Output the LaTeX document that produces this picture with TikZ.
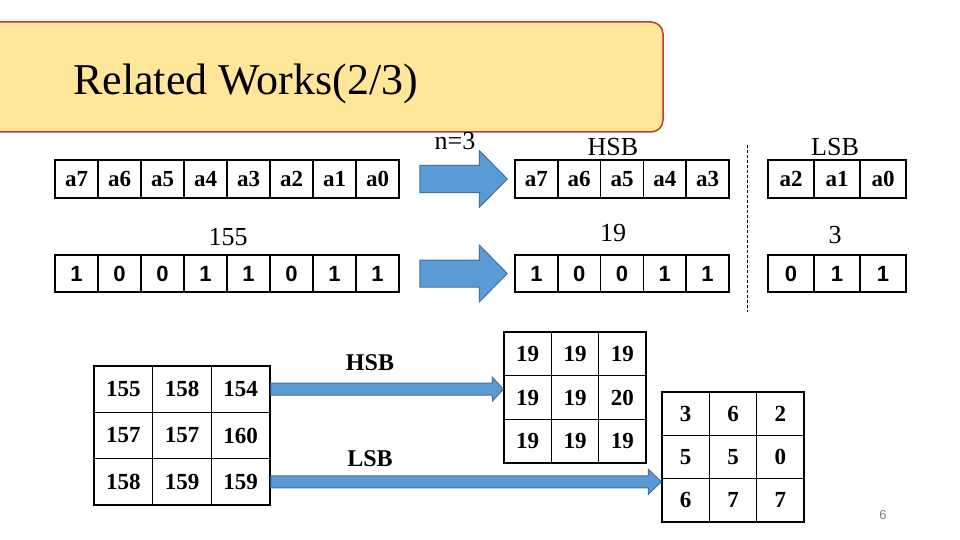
\documentclass[tikz,border=0pt]{standalone}
\usepackage{fontspec}
\setmainfont{Liberation Serif}
\newfontfamily\bitfont{Liberation Sans}
\definecolor{titlefill}{HTML}{FFE699}
\definecolor{titleedge}{HTML}{C0392B}
\definecolor{arrowblue}{HTML}{5B9BD5}
\definecolor{arrowedge}{HTML}{41719C}
\usetikzlibrary{calc}

\begin{document}
\begin{tikzpicture}[x=1pt, y=-1pt,
  cell/.style 2 args={draw, line width=1.5pt, inner sep=0pt, minimum width=#1, minimum height=#2,
    font=\fontsize{23}{23}\selectfont\bfseries},
  bitcell/.style 2 args={cell={#1}{#2}, font=\bitfont\fontsize{22}{22}\selectfont\bfseries},
  numtag/.style={inner sep=0pt, font=\fontsize{26}{26}\selectfont},
  boldtag/.style={inner sep=0pt, font=\fontsize{24}{24}\selectfont\bfseries},
  fatarrow/.style n args={3}{fill=arrowblue, draw=arrowedge, line width=1pt,
    to path={let \p1=(\tikztostart), \p2=(\tikztotarget) in
      (\x1,\y1+#1) -- (\x2-#3,\y1+#1) -- (\x2-#3,\y1+#2) -- (\x2,\y1)
      -- (\x2-#3,\y1-#2) -- (\x2-#3,\y1-#1) -- (\x1,\y1-#1) -- cycle}}]
\useasboundingbox (0,0) rectangle (960,540);
\clip (0,0) rectangle (960,540);

% Title
\draw[titleedge, fill=titlefill, line width=1.5pt, rounded corners=12pt] (-20,22) rectangle (663,132);
\node[anchor=base west, inner sep=0pt, font=\fontsize{44}{44}\selectfont] (title) at (73,95) {Related Works(2/3)};

% Bit positions and the value 155
\foreach \t [count=\i from 0] in {a7,a6,a5,a4,a3,a2,a1,a0}
  \node[cell={43pt}{38pt}] (ab\i) at (76.5+43*\i,179) {\t};
\node[numtag] (v155) at (228,237) {155};
\foreach \t [count=\i from 0] in {1,0,0,1,1,0,1,1}
  \node[bitcell={43pt}{37pt}] (vb\i) at (76.5+43*\i,273.5) {\t};

% Split into HSB / LSB
\node[numtag] (nval) at (455,141) {n=3};
\node[numtag] (hsbtop) at (613,147) {HSB};
\node[numtag] (lsbtop) at (835,147) {LSB};
\foreach \t [count=\i from 0] in {a7,a6,a5,a4,a3}
  \node[cell={42.8pt}{38pt}] (hb\i) at (536.4+42.8*\i,179) {\t};
\foreach \t [count=\i from 0] in {a2,a1,a0}
  \node[cell={46pt}{38pt}] (lb\i) at (791+46*\i,179) {\t};
\node[numtag] (v19) at (613,233) {19};
\node[numtag] (v3) at (835,235) {3};
\foreach \t [count=\i from 0] in {1,0,0,1,1}
  \node[bitcell={42.8pt}{37pt}] (hv\i) at (536.4+42.8*\i,273.5) {\t};
\foreach \t [count=\i from 0] in {0,1,1}
  \node[bitcell={46pt}{37pt}] (lv\i) at (791+46*\i,273.5) {\t};
\draw[line width=0.8pt, dash pattern=on 3pt off 2pt] (747,145) -- (747,312);

\coordinate (s1) at ([xshift=20pt]ab7.east);
\coordinate (e1) at ([xshift=-7pt]hb0.west);
\coordinate (s2) at ([xshift=20pt]vb7.east);
\coordinate (e2) at ([xshift=-7pt]hv0.west);
\draw[fatarrow={13.5pt}{28.5pt}{28pt}] (s1) to (e1);
\draw[fatarrow={13.5pt}{28.5pt}{28pt}] (s2) to (e2);

% Pixel block
\foreach \r [count=\i from 0] in {{155,158,154},{157,157,160},{158,159,159}}
  \foreach \t [count=\j from 0] in \r
    \node[cell={58.7pt}{46.3pt}] (p\i\j) at (123.3+58.7*\j,389.2+46.3*\i) {\t};

% HSB block
\foreach \r [count=\i from 0] in {{19,19,19},{19,19,20},{19,19,19}}
  \foreach \t [count=\j from 0] in \r
    \node[cell={47.3pt}{43.7pt}] (hs\i\j) at (527.7+47.3*\j,353.8+43.7*\i) {\t};

% LSB block
\foreach \r [count=\i from 0] in {{3,6,2},{5,5,0},{6,7,7}}
  \foreach \t [count=\j from 0] in \r
    \node[cell={47.3pt}{43.3pt}] (ls\i\j) at (685.7+47.3*\j,413.7+43.3*\i) {\t};

\node[boldtag] (hsbtag) at (370,363) {HSB};
\node[boldtag] (lsbtag) at (370,459) {LSB};
\draw[fatarrow={6pt}{12pt}{11pt}] (p02.east) to (hs10.west);
\draw[fatarrow={6pt}{12.5pt}{13pt}] (p22.east) to (ls20.west);

\node[text=gray, font=\bitfont\fontsize{13}{13}\selectfont] (pageno) at (883,515) {6};
\end{tikzpicture}
\end{document}
